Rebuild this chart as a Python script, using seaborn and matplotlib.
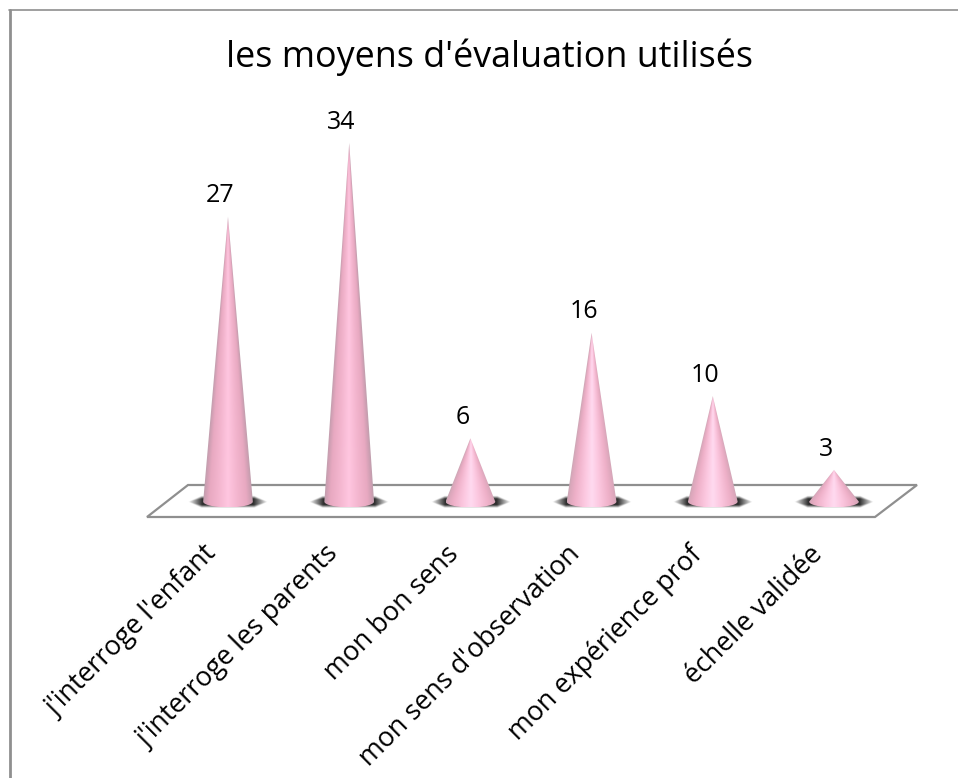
import numpy as np
import pandas as pd
import matplotlib
matplotlib.use("Agg")
import matplotlib.pyplot as plt
import seaborn as sns
from matplotlib.colors import LinearSegmentedColormap
from matplotlib.lines import Line2D
from matplotlib.patches import Polygon
from matplotlib.transforms import ScaledTranslation

categories = ["j'interroge l'enfant", "j'interroge les parents", "mon bon sens",
              "mon sens d'observation", "mon expérience prof", "échelle validée"]
values = [27, 34, 6, 16, 10, 3]
title = "les moyens d'évaluation utilisés"

W, H = 958, 778
FONT = "Open Sans"
GREY = "#8f8f8f"

sns.set_theme(style="white")
plt.rcParams["font.family"] = [FONT, "DejaVu Sans"]

fig = plt.figure(figsize=(W / 100, H / 100), dpi=100, facecolor="white")
# axes box in pixels: x 167.4..894.6, y 79.6..501.6
ax = fig.add_axes([167.4 / W, 1 - 501.6 / H, 727.2 / W, 422 / H])
df = pd.DataFrame({"categorie": categories, "valeur": values})
sns.barplot(data=df, x="categorie", y="valeur", width=0.41, ax=ax,
            facecolor="none", edgecolor="none", linewidth=0)
ax.set_xlim(-0.5, 5.5)
ax.set_ylim(0, 40)
ax.set_xlabel("")
ax.set_ylabel("")
ax.set_yticks([])
sns.despine(ax=ax, left=True, bottom=True, top=True, right=True)
ax.patch.set_alpha(0)

# floor plane (perspective parallelogram), in data units
px_x = lambda p: (p - 228) / 121.2
px_y = lambda p: (501.6 - p) / 10.55
floor = Polygon([(px_x(147), px_y(517)), (px_x(875), px_y(517)),
                 (px_x(917), px_y(485)), (px_x(188), px_y(485))],
                closed=True, facecolor="white", edgecolor=GREY, linewidth=1.6,
                clip_on=False, zorder=1)
ax.add_patch(floor)

short_cmap = LinearSegmentedColormap.from_list(
    "cone", [(0.0, "#ffdaf0"), (0.3, "#fcc8e0"), (0.7, "#eeb0c8"),
             (0.93, "#dba7bb"), (1.0, "#cda8b6")])
tall_cmap = LinearSegmentedColormap.from_list(
    "cone_tall", [(0.0, "#ffc6e0"), (0.4, "#f3b5ce"), (0.75, "#e8a9c1"),
                  (0.92, "#cf9fb3"), (1.0, "#c0a0ae")])
EB = 0.55  # semi-minor axis of the base ellipse, value units

for patch, val in zip(ax.patches, values):
    xc = patch.get_x() + patch.get_width() / 2
    hw = patch.get_width() / 2
    h = patch.get_height()

    # blurred contact shadow
    sx = np.linspace(xc - hw * 1.6, xc + hw * 1.6, 160)
    sy = np.linspace(-0.65, 0.5, 40)
    gx, gy = np.meshgrid(sx, sy)
    dx = np.abs(gx - xc) / (hw * 1.6)
    limit = 1 - dx
    a = np.clip(1 - np.abs(gy + 0.1) / (0.55 * np.clip(limit * 3, 1e-3, 1)), 0, 1)
    rgba = np.zeros(a.shape + (4,))
    rgba[..., :3] = 0.18
    rgba[..., 3] = np.clip(a * 2, 0, 1) * np.clip(limit * 2.8, 0, 1)
    ax.imshow(rgba, extent=(sx[0], sx[-1], sy[0], sy[-1]), origin="lower",
              aspect="auto", interpolation="bilinear", zorder=2, clip_on=False)

    # cone shading follows the cone's narrowing
    ys = np.linspace(-EB, h, 500)
    xs = np.linspace(xc - hw, xc + hw, 220)
    gx, gy = np.meshgrid(xs, ys)
    half = np.clip(hw * (1 - np.clip(gy, 0, h) / h), 1e-4, None)
    u = np.clip(np.abs(gx - xc) / half, 0, 1)
    im = ax.imshow(u, extent=(xs[0], xs[-1], ys[0], ys[-1]), origin="lower",
                   aspect="auto", cmap=short_cmap if h < 20 else tall_cmap,
                   vmin=0, vmax=1, interpolation="bilinear", zorder=3)
    t = np.linspace(0, np.pi, 40)
    outline = [(xc, h)] + [(xc + hw * np.cos(a_), -EB * np.sin(a_)) for a_ in t]
    clip = Polygon(outline, closed=True, transform=ax.transData, facecolor="none",
                   edgecolor="none")
    ax.add_patch(clip)
    im.set_clip_path(clip)
    im.set_clip_box(fig.bbox)

value_labels = ax.bar_label(ax.containers[0], labels=[str(v) for v in values], padding=6,
                            fontsize=18, color="black", zorder=5)
for txt in value_labels:
    txt.xyann = (txt.xyann[0] - 8 * 0.72, txt.xyann[1])
ax.set_xlim(-0.5, 5.5)
ax.set_ylim(0, 40)

ax.tick_params(axis="x", length=0, pad=28, labelsize=19.4, colors="black")
offset = ScaledTranslation(-25 / 100, 0, fig.dpi_scale_trans)
for lab in ax.get_xticklabels():
    lab.set_rotation(45)
    lab.set_ha("right")
    lab.set_rotation_mode("anchor")
    lab.set_transform(lab.get_transform() + offset)

fig.text(490 / W, 1 - 57 / H, title, ha="center", va="center", fontsize=25.8, color="black")

# outer chart border (left and top only, as cropped in the reference)
fig.add_artist(Line2D([10 / W, 10 / W], [0, 1 - 9.5 / H], color=GREY, lw=2.0,
                      transform=fig.transFigure))
fig.add_artist(Line2D([9 / W, 1], [1 - 9.5 / H, 1 - 9.5 / H], color=GREY, lw=1.2,
                      transform=fig.transFigure))

fig.savefig("out.png", dpi=100, facecolor="white")
